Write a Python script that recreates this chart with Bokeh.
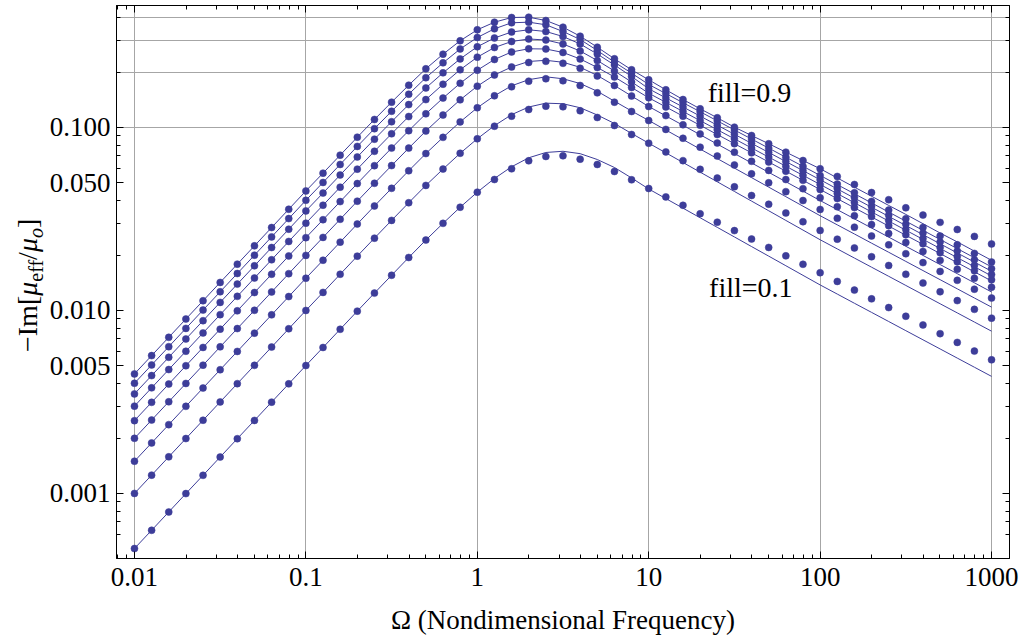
from bokeh.plotting import figure
from bokeh.layouts import row
from bokeh.models import FixedTicker, LogAxis, Label, Range1d, CustomJSTickFormatter, Div
from bokeh.embed import file_html
from bokeh.resources import INLINE

# ---------------- data ----------------
omega = [0.01, 0.01259, 0.01585, 0.01995, 0.02512, 0.03162, 0.03981, 0.05012, 0.0631, 0.07943,
         0.1, 0.1259, 0.1585, 0.1995, 0.2512, 0.3162, 0.3981, 0.5012, 0.631, 0.7943,
         1, 1.259, 1.585, 1.995, 2.512, 3.162, 3.981, 5.012, 6.31, 7.943,
         10, 12.59, 15.85, 19.95, 25.12, 31.62, 39.81, 50.12, 63.1, 79.43,
         100, 125.9, 158.5, 199.5, 251.2, 316.2, 398.1, 501.2, 631, 794.3, 1000]

fill_levels = [0.1, 0.2, 0.3, 0.4, 0.5, 0.6, 0.7, 0.8, 0.9]

# measured points (dots)
dots_01 = [0.0005, 0.000629, 0.000792, 0.000998, 0.001256, 0.001581, 0.001991, 0.002506, 0.003155, 0.003972,
           0.005, 0.006277, 0.00789, 0.009916, 0.01244, 0.01557, 0.01947, 0.02426, 0.02993, 0.03665,
           0.0443, 0.05196, 0.05946, 0.06577, 0.06942, 0.07004, 0.06711, 0.06279, 0.05748, 0.05177,
           0.04642, 0.04175, 0.03755, 0.03377, 0.03037, 0.02732, 0.02457, 0.0221, 0.01988, 0.01788,
           0.01608, 0.01441, 0.01292, 0.01157, 0.01037, 0.009297, 0.008332, 0.007467, 0.006692, 0.005998, 0.005375]
dots_02 = [0.001, 0.001259, 0.001585, 0.001995, 0.002512, 0.003162, 0.003981, 0.005012, 0.00631, 0.007943,
           0.01, 0.01255, 0.01577, 0.01981, 0.02484, 0.03107, 0.03879, 0.04823, 0.05925, 0.07228,
           0.08676, 0.1016, 0.1153, 0.1254, 0.1307, 0.1297, 0.1234, 0.1134, 0.1025, 0.09156,
           0.08208, 0.07355, 0.0659, 0.05905, 0.05291, 0.04741, 0.04248, 0.03806, 0.0341, 0.03055,
           0.02738, 0.02452, 0.02196, 0.01966, 0.01761, 0.01577, 0.01412, 0.01265, 0.01132, 0.01014, 0.00908]
dots_03 = [0.0015, 0.001888, 0.002377, 0.002993, 0.003768, 0.004743, 0.005972, 0.007518, 0.009464, 0.01191,
           0.015, 0.01881, 0.02363, 0.02969, 0.03722, 0.04651, 0.05802, 0.07202, 0.0883, 0.1073,
           0.1282, 0.149, 0.1669, 0.1791, 0.1846, 0.18, 0.1696, 0.1547, 0.1375, 0.1223,
           0.1092, 0.09764, 0.0873, 0.07806, 0.06979, 0.0624, 0.05579, 0.04988, 0.0446, 0.03988,
           0.03565, 0.03189, 0.02853, 0.02552, 0.02283, 0.02042, 0.01826, 0.01634, 0.01461, 0.01307, 0.01169]
dots_04 = [0.002, 0.002518, 0.00317, 0.003991, 0.005024, 0.006325, 0.007962, 0.01002, 0.01262, 0.01589,
           0.02, 0.02508, 0.0315, 0.03955, 0.04956, 0.0619, 0.07713, 0.09564, 0.1169, 0.1416,
           0.1682, 0.1936, 0.2141, 0.2266, 0.23, 0.2243, 0.2106, 0.1912, 0.1696, 0.1486,
           0.1302, 0.1161, 0.1035, 0.09224, 0.08223, 0.07331, 0.06536, 0.05826, 0.05194, 0.04631,
           0.04128, 0.03689, 0.03296, 0.02946, 0.02632, 0.02352, 0.02102, 0.01878, 0.01679, 0.015, 0.0134]
dots_05 = [0.0025, 0.003147, 0.003962, 0.004988, 0.00628, 0.007906, 0.009953, 0.01253, 0.01577, 0.01986,
           0.025, 0.03133, 0.03934, 0.04939, 0.06185, 0.07716, 0.09604, 0.1188, 0.1448, 0.1744,
           0.2056, 0.2353, 0.2586, 0.2692, 0.2685, 0.257, 0.2368, 0.2128, 0.1888, 0.1654,
           0.1453, 0.1295, 0.1153, 0.1028, 0.09155, 0.08157, 0.07268, 0.06476, 0.0577, 0.05141,
           0.04581, 0.04089, 0.0365, 0.03258, 0.02908, 0.02596, 0.02317, 0.02068, 0.01846, 0.01648, 0.01471]
dots_06 = [0.003, 0.003777, 0.004755, 0.005986, 0.007536, 0.009487, 0.01194, 0.01504, 0.01893, 0.02383,
           0.03, 0.03759, 0.04718, 0.05921, 0.07411, 0.09239, 0.1148, 0.142, 0.1723, 0.2068,
           0.2423, 0.2736, 0.2951, 0.3045, 0.3007, 0.286, 0.2618, 0.2323, 0.2036, 0.1773,
           0.1539, 0.1372, 0.1223, 0.109, 0.09722, 0.08667, 0.07727, 0.06888, 0.06141, 0.05475,
           0.04881, 0.04358, 0.03891, 0.03475, 0.03103, 0.0277, 0.02474, 0.02209, 0.01972, 0.01761, 0.01572]
dots_07 = [0.0035, 0.004406, 0.005547, 0.006983, 0.008792, 0.01107, 0.01393, 0.01754, 0.02208, 0.0278,
           0.035, 0.04382, 0.05499, 0.069, 0.08631, 0.1075, 0.1334, 0.1645, 0.1989, 0.2371,
           0.2761, 0.3084, 0.3326, 0.3419, 0.3346, 0.3142, 0.286, 0.2521, 0.2195, 0.19,
           0.1627, 0.1451, 0.1294, 0.1154, 0.1029, 0.09181, 0.08189, 0.07304, 0.06514, 0.0581,
           0.05182, 0.04633, 0.04142, 0.03704, 0.03312, 0.02961, 0.02647, 0.02367, 0.02116, 0.01892, 0.01692]
dots_08 = [0.004, 0.005036, 0.00634, 0.007981, 0.01005, 0.01265, 0.01592, 0.02005, 0.02524, 0.03177,
           0.04, 0.05007, 0.0628, 0.0788, 0.0985, 0.1226, 0.152, 0.1871, 0.2256, 0.2685,
           0.3103, 0.3462, 0.3734, 0.3763, 0.3642, 0.3346, 0.3027, 0.2635, 0.2275, 0.1981,
           0.1718, 0.1532, 0.1366, 0.1219, 0.1087, 0.09692, 0.08645, 0.0771, 0.06877, 0.06134,
           0.05471, 0.04903, 0.04397, 0.03943, 0.03535, 0.0317, 0.02843, 0.02549, 0.02286, 0.0205, 0.01838]
dots_09 = [0.0045, 0.005665, 0.007132, 0.008979, 0.0113, 0.01423, 0.01791, 0.02255, 0.02839, 0.03574,
           0.045, 0.0563, 0.0706, 0.0885, 0.1106, 0.1375, 0.1703, 0.2093, 0.2515, 0.2977,
           0.3419, 0.3761, 0.3991, 0.4006, 0.3843, 0.3533, 0.3154, 0.2747, 0.2374, 0.2067,
           0.1823, 0.1607, 0.1422, 0.1265, 0.113, 0.1004, 0.0904, 0.0815, 0.0733, 0.066,
           0.0595, 0.054, 0.0488, 0.0441, 0.0403, 0.0364, 0.0332, 0.0303, 0.0277, 0.0254, 0.0231]

# theory curves (lines)
line_01 = [0.0005, 0.000629, 0.000792, 0.000998, 0.001256, 0.001581, 0.001991, 0.002506, 0.003155, 0.003972,
           0.005, 0.006277, 0.00789, 0.009916, 0.01244, 0.01557, 0.01947, 0.02426, 0.02993, 0.03665,
           0.0443, 0.05263, 0.06098, 0.0683, 0.07302, 0.07413, 0.07193, 0.06683, 0.06045, 0.05297,
           0.04612, 0.04088, 0.03623, 0.03211, 0.02846, 0.02522, 0.02235, 0.01981, 0.01756, 0.01556,
           0.01379, 0.01229, 0.01095, 0.009763, 0.008702, 0.007756, 0.006913, 0.006162, 0.005492, 0.004895, 0.004363]
line_02 = [0.001, 0.001259, 0.001585, 0.001995, 0.002512, 0.003162, 0.003981, 0.005012, 0.00631, 0.007943,
           0.01, 0.01255, 0.01577, 0.01981, 0.02484, 0.03107, 0.03879, 0.04823, 0.05925, 0.07228,
           0.08676, 0.1023, 0.1175, 0.1294, 0.1358, 0.1348, 0.1282, 0.117, 0.1052, 0.09273,
           0.08208, 0.07269, 0.06437, 0.05701, 0.05049, 0.04471, 0.0396, 0.03507, 0.03105, 0.0275,
           0.02435, 0.0217, 0.01934, 0.01724, 0.01537, 0.0137, 0.01221, 0.01088, 0.0097, 0.008645, 0.007705]
line_03 = [0.0015, 0.001888, 0.002377, 0.002993, 0.003768, 0.004743, 0.005972, 0.007518, 0.009464, 0.01191,
           0.015, 0.01881, 0.02363, 0.02969, 0.03722, 0.04651, 0.05802, 0.07202, 0.0883, 0.1073,
           0.1282, 0.149, 0.169, 0.1825, 0.1892, 0.1846, 0.1739, 0.1577, 0.1392, 0.1231,
           0.1092, 0.09687, 0.08593, 0.07623, 0.06762, 0.05999, 0.05321, 0.0472, 0.04187, 0.03715,
           0.03295, 0.02937, 0.02618, 0.02333, 0.0208, 0.01854, 0.01652, 0.01473, 0.01313, 0.0117, 0.01043]
line_04 = [0.002, 0.002518, 0.00317, 0.003991, 0.005024, 0.006325, 0.007962, 0.01002, 0.01262, 0.01589,
           0.02, 0.02508, 0.0315, 0.03955, 0.04956, 0.0619, 0.07713, 0.09564, 0.1169, 0.1416,
           0.1682, 0.1936, 0.2141, 0.2295, 0.2329, 0.2272, 0.2133, 0.1924, 0.1696, 0.1486,
           0.1302, 0.1157, 0.1028, 0.0913, 0.08111, 0.07206, 0.06402, 0.05687, 0.05053, 0.04489,
           0.03988, 0.03555, 0.03168, 0.02824, 0.02517, 0.02243, 0.01999, 0.01782, 0.01588, 0.01416, 0.01262]
line_05 = [0.0025, 0.003147, 0.003962, 0.004988, 0.00628, 0.007906, 0.009953, 0.01253, 0.01577, 0.01986,
           0.025, 0.03133, 0.03934, 0.04939, 0.06185, 0.07716, 0.09604, 0.1188, 0.1448, 0.1744,
           0.2056, 0.2353, 0.2586, 0.2692, 0.2685, 0.257, 0.2368, 0.2128, 0.1888, 0.1654,
           0.1453, 0.1295, 0.1153, 0.1028, 0.09155, 0.08157, 0.07268, 0.06476, 0.0577, 0.05141,
           0.04581, 0.04083, 0.03639, 0.03244, 0.02891, 0.02577, 0.02297, 0.02047, 0.01825, 0.01626, 0.0145]
line_06 = [0.003, 0.003777, 0.004755, 0.005986, 0.007536, 0.009487, 0.01194, 0.01504, 0.01893, 0.02383,
           0.03, 0.03759, 0.04718, 0.05921, 0.07411, 0.09239, 0.1148, 0.142, 0.1723, 0.2068,
           0.2423, 0.2736, 0.2951, 0.3045, 0.3007, 0.286, 0.2618, 0.2323, 0.2036, 0.1773,
           0.1539, 0.1372, 0.1223, 0.109, 0.09722, 0.08667, 0.07727, 0.06888, 0.06141, 0.05475,
           0.04881, 0.04351, 0.03878, 0.03456, 0.0308, 0.02746, 0.02447, 0.02181, 0.01944, 0.01733, 0.01545]
line_07 = [0.0035, 0.004406, 0.005547, 0.006983, 0.008792, 0.01107, 0.01393, 0.01754, 0.02208, 0.0278,
           0.035, 0.04382, 0.05499, 0.069, 0.08631, 0.1075, 0.1334, 0.1645, 0.1989, 0.2371,
           0.2761, 0.3084, 0.3326, 0.3419, 0.3346, 0.3142, 0.286, 0.2521, 0.2195, 0.19,
           0.1627, 0.1451, 0.1294, 0.1154, 0.1029, 0.09181, 0.08189, 0.07304, 0.06514, 0.0581,
           0.05182, 0.04614, 0.04113, 0.03666, 0.03267, 0.02912, 0.02596, 0.02314, 0.02062, 0.01838, 0.01638]
line_08 = [0.004, 0.005036, 0.00634, 0.007981, 0.01005, 0.01265, 0.01592, 0.02005, 0.02524, 0.03177,
           0.04, 0.05007, 0.0628, 0.0788, 0.0985, 0.1226, 0.152, 0.1871, 0.2256, 0.2685,
           0.3103, 0.3462, 0.3734, 0.3763, 0.3642, 0.3346, 0.3027, 0.2635, 0.2275, 0.1981,
           0.1718, 0.1532, 0.1366, 0.1219, 0.1087, 0.09692, 0.08645, 0.0771, 0.06877, 0.06134,
           0.05471, 0.04873, 0.04343, 0.03871, 0.0345, 0.03075, 0.02741, 0.02443, 0.02178, 0.01941, 0.0173]
line_09 = [0.0045, 0.005665, 0.007132, 0.008979, 0.0113, 0.01423, 0.01791, 0.02255, 0.02839, 0.03574,
           0.045, 0.0563, 0.0706, 0.0885, 0.1106, 0.1375, 0.1703, 0.2093, 0.2515, 0.2977,
           0.3419, 0.3761, 0.3991, 0.4006, 0.3843, 0.3533, 0.3154, 0.2747, 0.2374, 0.2067,
           0.1823, 0.1607, 0.1422, 0.1265, 0.113, 0.1004, 0.0904, 0.0815, 0.0733, 0.066,
           0.0595, 0.053, 0.0472, 0.0421, 0.0375, 0.0335, 0.0298, 0.0265, 0.0237, 0.0211, 0.0188]

x_tick_values = [0.01, 0.1, 1, 10, 100, 1000]
y_tick_values = [0.001, 0.005, 0.01, 0.05, 0.1]
y_tick_labels = ["0.001", "0.005", "0.010", "0.050", "0.100"]
y_grid_values = [0.1, 0.2, 0.3, 0.4]

annotations = [("fill=0.9", 22.1, 0.156), ("fill=0.1", 22.5, 0.01327)]
x_title = "\u03a9 (Nondimensional Frequency)"

dots_all = [dots_01, dots_02, dots_03, dots_04, dots_05, dots_06, dots_07, dots_08, dots_09]
lines_all = [line_01, line_02, line_03, line_04, line_05, line_06, line_07, line_08, line_09]

# ---------------- layout constants ----------------
COLOR = "#3d3d99"
SERIF = "Liberation Serif"
H = 638
TITLE_W = 46
MAIN_W = 974

# ---------------- main figure ----------------
p = figure(width=MAIN_W, height=H, x_axis_type="log", y_axis_type="log",
           x_range=Range1d(0.007856, 1272.8), y_range=Range1d(0.000441, 0.46416),
           output_backend="svg", toolbar_location=None,
           min_border_left=68, min_border_right=11, min_border_top=5, min_border_bottom=80)
p.background_fill_color = "white"
p.border_fill_color = "white"
p.outline_line_color = "black"
p.outline_line_width = 1

x_minor = [m * 10.0 ** e for e in range(-3, 4) for m in range(2, 10)]
y_minor = [m * 10.0 ** e for e in range(-4, 0) for m in range(2, 10) if m != 5]
x_ticker = FixedTicker(ticks=x_tick_values, minor_ticks=x_minor)
y_ticker = FixedTicker(ticks=y_tick_values, minor_ticks=y_minor)

x_fmt = CustomJSTickFormatter(code="""
const m = {"0.01": "0.01", "0.1": "0.1", "1": "1", "10": "10", "100": "100", "1000": "1000"};
const k = String(tick);
return (k in m) ? m[k] : "";
""")
y_map = ", ".join('"%s": "%s"' % (str(v), s) for v, s in zip(y_tick_values, y_tick_labels))
y_fmt = CustomJSTickFormatter(code="""
const m = {%s};
const k = String(tick);
return (k in m) ? m[k] : "";
""" % y_map)
blank_fmt = CustomJSTickFormatter(code="return '';")


def style_axis(ax, labels=True):
    ax.axis_line_color = "black"
    ax.axis_line_width = 1
    ax.major_tick_line_color = "black"
    ax.minor_tick_line_color = "black"
    ax.major_tick_in = 7
    ax.major_tick_out = 0
    ax.minor_tick_in = 4
    ax.minor_tick_out = 0
    ax.major_label_text_font = SERIF
    ax.major_label_text_color = "black"
    if labels:
        ax.major_label_text_font_size = "27px"
    else:
        ax.major_label_text_font_size = "0px"
        ax.major_label_standoff = 0


xa = p.xaxis[0]
xa.ticker = x_ticker
xa.formatter = x_fmt
style_axis(xa)
xa.major_label_standoff = 9
xa.axis_label = x_title
xa.axis_label_text_font = SERIF
xa.axis_label_text_font_size = "27px"
xa.axis_label_text_font_style = "normal"
xa.axis_label_text_color = "black"
xa.axis_label_standoff = 16

ya = p.yaxis[0]
ya.ticker = y_ticker
ya.formatter = y_fmt
style_axis(ya)
ya.major_label_standoff = 6

top = LogAxis(ticker=x_ticker, formatter=blank_fmt)
style_axis(top, labels=False)
p.add_layout(top, "above")
right = LogAxis(ticker=y_ticker, formatter=blank_fmt)
style_axis(right, labels=False)
p.add_layout(right, "right")

p.xgrid.ticker = FixedTicker(ticks=x_tick_values)
p.ygrid.ticker = FixedTicker(ticks=y_grid_values)
for g in (p.xgrid, p.ygrid):
    g.grid_line_color = "#a6a6a6"
    g.grid_line_width = 1

for ln, dt in zip(lines_all, dots_all):
    p.line(omega, ln, line_color=COLOR, line_width=1)
    p.scatter(omega, dt, size=7, fill_color=COLOR, line_color=COLOR, line_width=0.5)

for txt, xv, yv in annotations:
    p.add_layout(Label(x=xv, y=yv, text=txt, text_align="left", text_baseline="middle",
                       text_font=SERIF, text_font_size="28px", text_color="black"))

# ---------------- y-axis title: -Im[ mu_eff / mu_o ] (real HTML text, rotated) ----------------
sub = "font-size:20px;position:relative;top:6px;"
title_html = (
    '<div style="position:relative;width:%dpx;height:%dpx;overflow:visible;">' % (TITLE_W, H)
    + '<div style="position:absolute;left:0px;top:0px;width:300px;height:%dpx;' % TITLE_W
    + 'transform-origin:0 0;transform:translate(0px,352px) rotate(-90deg);">'
    + '<span style="position:absolute;left:0px;top:13.5px;white-space:nowrap;'
    + "font-family:'Liberation Serif';font-size:28px;line-height:28px;color:#000;\">"
    + '\u2212Im[<i>\u03bc</i><span style="%s">eff</span>/<i>\u03bc</i>' % sub
    + '<span style="%s"><i>o</i></span>]' % sub
    + '</span></div></div>'
)
ytitle = Div(text=title_html, width=TITLE_W, height=H, margin=0)

layout = row(ytitle, p)
open("out.html", "w").write(file_html(layout, INLINE))
